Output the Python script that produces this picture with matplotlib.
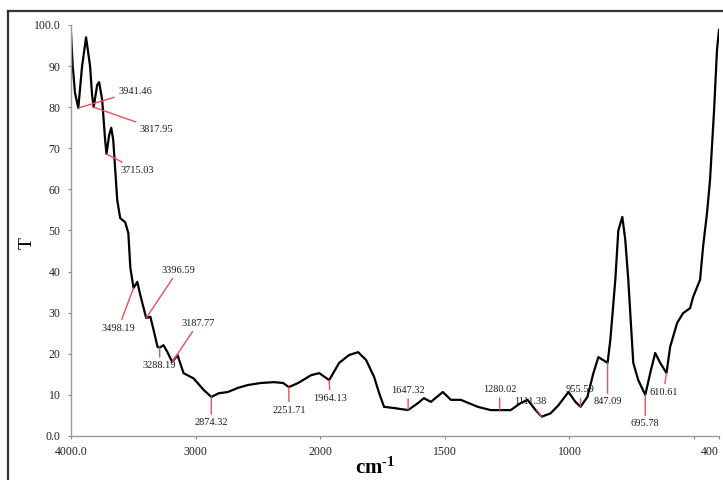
import matplotlib
matplotlib.use("Agg")
import matplotlib.pyplot as plt
from matplotlib.lines import Line2D
import numpy as np

# FTIR spectrum, wavenumber (cm-1) vs transmittance
wavenumber = [4000, 3986, 3968, 3941.46, 3911, 3879, 3847, 3831, 3817.95, 3790,
              3774, 3750, 3726, 3715.03, 3694, 3677, 3661, 3645, 3629, 3605,
              3565, 3540, 3524, 3498.19, 3468, 3444, 3396.59, 3363, 3331, 3306,
              3288.19, 3258, 3226, 3187.77, 3145, 3097, 3016, 2935, 2874.32, 2815,
              2742, 2661, 2581, 2476, 2371, 2298, 2251.71, 2177, 2073, 2008,
              1964.13, 1924, 1884, 1848, 1816, 1784, 1764, 1744, 1704, 1647.32,
              1608, 1584, 1556, 1508, 1476, 1436, 1368, 1316, 1280.02, 1236,
              1196, 1168, 1136, 1111.38, 1076, 1044, 1004, 976, 955.59, 928,
              904, 884, 847.09, 836, 816, 804, 788, 776, 764, 744,
              724, 695.78, 676, 656, 636, 610.61, 596, 568, 544, 516,
              504, 476, 464, 448, 436, 420, 408, 400]
transmittance = [98, 90, 83.5, 79.8, 90, 97, 90, 83, 80, 85.4,
                 86.1, 81.8, 72, 68.6, 73.2, 75, 72, 64.7, 57.4, 53,
                 52, 49.4, 41, 36, 37.5, 34.3, 28.7, 29, 25, 21.7,
                 21.5, 22.1, 20.4, 18, 19.7, 15.3, 14, 11.2, 9.5, 10.4,
                 10.7, 11.7, 12.4, 12.9, 13.1, 12.9, 11.9, 12.9, 14.8, 15.3,
                 13.6, 17.8, 19.7, 20.4, 18.5, 14.4, 10.5, 7.1, 6.8, 6.3,
                 8, 9.2, 8.3, 10.7, 8.8, 8.8, 7.1, 6.3, 6.3, 6.3,
                 8, 8.8, 6.3, 4.7, 5.5, 7.5, 10.7, 8.3, 7.1, 9.5,
                 15.3, 19.2, 17.8, 23.4, 38, 50, 53.3, 47.7, 38, 17.8,
                 13.6, 10, 15.3, 20.2, 17.8, 15.3, 21.7, 27.5, 29.9, 31.1,
                 33.8, 38, 46, 54.3, 62.3, 79, 94, 98.8]

peaks = [3941.46, 3817.95, 3715.03, 3498.19, 3396.59, 3288.19, 3187.77,
         2874.32, 2251.71, 1964.13, 1647.32, 1280.02, 1111.38, 955.59,
         847.09, 695.78, 610.61]

x_ticks = [4000, 3000, 2000, 1500, 1000, 500, 400]
x_ticklabels = ['4000.0', '3000', '2000', '1500', '1000', '', '400']
y_ticks = [0, 10, 20, 30, 40, 50, 60, 70, 80, 90, 100]
y_ticklabels = ['0.0', '10', '20', '30', '40', '50', '60', '70', '80', '90', '100.0']

# label offsets in pixels (dx, dy) from each peak
label_offsets = [(57, 17), (63, -22), (31, -16), (-15, -40), (32, 48), (0, -18),
                 (26, 39), (0, -26), (0, -23), (1, -18), (0, 20), (0, 21),
                 (-11, 15), (0, 17), (0, -39), (0, -29), (-3, -19)]


def fwd(x):
    x = np.asarray(x, dtype=float)
    return np.where(x > 2000, 2000 + (x - 2000) / 2.0, x)


def inv(u):
    u = np.asarray(u, dtype=float)
    return np.where(u > 2000, 2000 + (u - 2000) * 2.0, u)


plt.rcParams['font.family'] = ['Liberation Serif', 'DejaVu Serif']
plt.rcParams['mathtext.fontset'] = 'custom'
plt.rcParams['mathtext.rm'] = 'Liberation Serif'
plt.rcParams['mathtext.bf'] = 'Liberation Serif:bold'

fig = plt.figure(figsize=(7.23, 4.8), dpi=100)
ax = fig.add_axes([71 / 723, 1 - 436 / 480, 648 / 723, 411 / 480])
ax.set_xscale('function', functions=(fwd, inv))

wn = np.array(wavenumber)
tr = np.array(transmittance)
ax.plot(wn, tr, color='black', lw=1.6)

ax.set_xlim(4000, 400)
ax.set_ylim(0, 100)

for pk, (dx, dy) in zip(peaks, label_offsets):
    ty = tr[np.argmin(np.abs(wn - pk))]
    ax.annotate('%.2f' % pk, xy=(pk, ty), xytext=(dx, dy),
                textcoords='offset pixels', ha='center', va='center',
                fontsize=7.5, color='#1a1a2e',
                arrowprops=dict(arrowstyle='-', color='#e8505b', lw=1,
                                shrinkA=1, shrinkB=0))

ax.set_xticks(x_ticks)
ax.set_xticklabels(x_ticklabels)
ax.set_yticks(y_ticks)
ax.set_yticklabels(y_ticklabels)
ax.xaxis.set_minor_locator(matplotlib.ticker.NullLocator())
ax.get_xticklabels()[-1].set_horizontalalignment('right')
ax.tick_params(length=2.5, width=0.8, color='#888888', labelsize=8.5,
               labelcolor='#222222', pad=5)

for s in ['top', 'right']:
    ax.spines[s].set_visible(False)
for s in ['left', 'bottom']:
    ax.spines[s].set_color('#999999')
    ax.spines[s].set_linewidth(1)

fig.text(375 / 723, 1 - 468 / 480, r'$\mathbf{cm^{\text{-}1}}$', ha='center',
         va='center', fontsize=15)
fig.text(27 / 723, 1 - 243 / 480, 'T', ha='center', va='center',
         fontsize=14, rotation=90)

# outer frame
fig.add_artist(Line2D([8 / 723, 8 / 723], [-0.01, 1 - 11 / 480],
                      transform=fig.transFigure, color='#333333', lw=1.6))
fig.add_artist(Line2D([8 / 723, 1.01], [1 - 11 / 480, 1 - 11 / 480],
                      transform=fig.transFigure, color='#333333', lw=1.6))

fig.savefig('out.png', dpi=100)
